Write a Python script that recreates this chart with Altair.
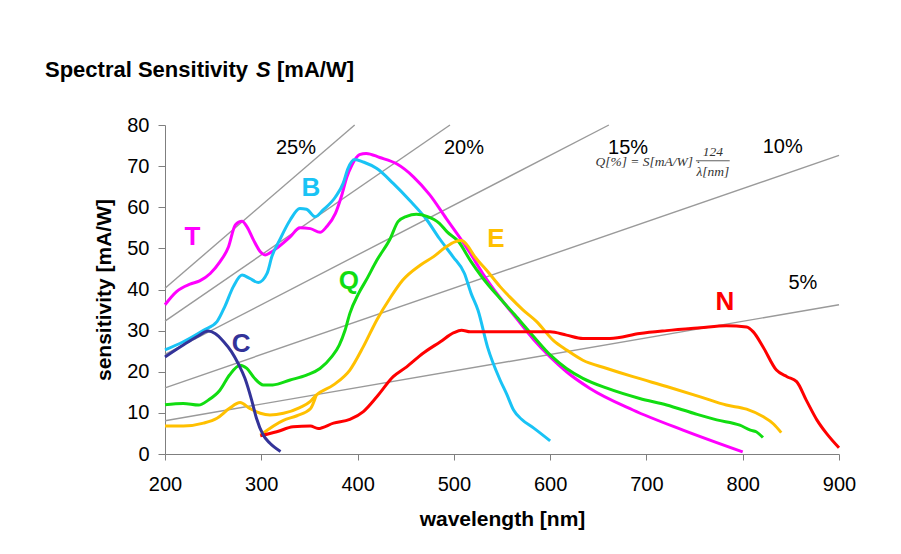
import altair as alt
import pandas as pd

# ---------------- data ----------------
T_x = [200, 212, 226, 236, 247, 257, 266, 273, 280, 285, 292, 299, 304, 309, 318, 330, 340, 351, 361, 368,
       377, 383, 389, 394, 402, 409, 423, 441, 458, 475, 492, 508, 517, 530, 548, 565, 583, 600, 617, 641,
       686, 738, 800]
T_y = [36.3, 39.5, 41.3, 42.1, 43.9, 46.7, 50.4, 55.7, 56.6, 55.3, 52.0, 49.2, 48.4, 48.9, 50.4, 52.8,
       55.0, 54.8, 53.9, 55.3, 58.5, 62.5, 67.4, 70.2, 72.8, 73.1, 72.1, 70.5, 67.4, 63.0, 57.3, 52.0,
       48.8, 43.9, 38.0, 33.0, 27.8, 23.6, 20.0, 16.0, 10.7, 5.8, 0.5]

B_x = [200, 219, 240, 254, 262, 271, 280, 288, 297, 306, 311, 319, 330, 340, 347, 356, 364, 377, 385, 390,
       397, 406, 420, 437, 454, 472, 485, 499, 511, 518, 525, 535, 548, 555, 562, 570, 583, 600]
B_y = [25.3, 27.3, 30.1, 32.2, 35.8, 40.7, 43.5, 42.7, 41.7, 43.9, 48.0, 52.0, 56.9, 59.7, 59.5, 57.7,
       59.3, 62.5, 65.8, 69.4, 71.6, 71.0, 69.4, 65.8, 61.7, 56.9, 52.4, 48.0, 43.9, 39.0, 35.0, 26.0,
       18.0, 14.5, 10.7, 8.5, 6.3, 3.2]

C_x = [200, 219, 233, 245, 252, 261, 269, 276, 283, 290, 295, 302, 309, 320]
C_y = [23.6, 26.5, 28.5, 29.9, 29.3, 27.3, 24.9, 22.0, 18.4, 13.1, 8.7, 4.6, 2.6, 0.6]

Q_x = [200, 219, 235, 245, 257, 267, 278, 285, 293, 302, 312, 330, 347, 361, 373, 381, 387, 392, 401, 409,
       420, 434, 442, 451, 461, 472, 485, 493, 505, 517, 529, 548, 565, 583, 600, 617, 634, 659, 693, 721,
       749, 773, 797, 808, 814, 821]
Q_y = [12.0, 12.3, 11.9, 13.1, 15.5, 19.2, 21.6, 20.8, 18.4, 16.8, 16.8, 18.0, 19.2, 20.8, 23.6, 26.5,
       30.1, 34.2, 39.0, 42.3, 47.1, 52.4, 56.5, 57.8, 58.3, 57.8, 56.1, 54.0, 51.6, 47.1, 43.1, 37.8,
       33.4, 28.5, 24.1, 20.8, 18.4, 16.0, 13.5, 11.9, 9.9, 8.3, 7.0, 5.8, 5.4, 4.0]

E_x = [200, 219, 240, 254, 267, 278, 288, 299, 309, 323, 340, 351, 357, 375, 392, 406, 420, 434, 447, 465,
       479, 492, 501, 508, 513, 522, 534, 548, 558, 572, 586, 603, 617, 634, 659, 686, 721, 756, 783, 804,
       821, 832, 840]
E_y = [6.8, 6.8, 7.5, 8.7, 11.1, 12.5, 11.1, 9.9, 9.5, 9.9, 11.3, 12.8, 14.3, 16.8, 20.4, 26.1, 32.6,
       38.0, 42.3, 45.9, 48.0, 50.4, 51.6, 51.9, 51.0, 47.9, 44.7, 40.7, 38.2, 35.0, 32.2, 27.7, 25.3,
       22.8, 20.8, 18.8, 16.4, 13.9, 11.9, 10.9, 9.1, 7.3, 5.2]

E2_x = [299, 323, 337, 351, 357]
E2_y = [4.6, 8.2, 9.3, 11.0, 14.3]

N_x = [299, 316, 333, 351, 359, 375, 392, 406, 420, 437, 451, 468, 486, 500, 508, 517, 531, 548, 579, 600,
       617, 634, 662, 693, 721, 756, 783, 804, 811, 821, 835, 846, 856, 866, 877, 887, 900]
N_y = [4.4, 5.4, 6.6, 6.8, 6.2, 7.5, 8.4, 10.3, 13.9, 18.8, 21.2, 24.5, 27.3, 29.5, 30.1, 29.7, 29.7,
       29.7, 29.7, 29.7, 28.9, 28.1, 28.1, 29.3, 30.0, 30.7, 31.2, 30.9, 29.7, 26.1, 20.4, 18.8, 17.6,
       13.1, 8.3, 5.0, 1.5]

series_names = ["T", "B", "Q", "E", "N", "C"]
series_colors = ["#FF00FF", "#19C3F5", "#11DD11", "#FFC000", "#FF0000", "#333399"]

# constant quantum-efficiency lines (end points)
q_names = ["25%", "20%", "15%", "10%", "5%"]
q_x0 = [200, 200, 200, 200, 200]
q_y0 = [40.3, 32.3, 24.2, 16.1, 8.1]
q_x1 = [397, 496, 661, 900, 900]
q_y1 = [80.0, 80.0, 80.0, 72.6, 36.3]

# labels
pct_text = ["25%", "20%", "15%", "10%", "5%"]
pct_x = [336, 510.5, 681, 841.5, 862.5]
pct_y = [74.5, 74.5, 74.5, 74.6, 41.6]

lab_text = ["T", "B", "Q", "E", "C", "N"]
lab_x = [228.6, 351.6, 391, 543.7, 279, 781.5]
lab_y = [52.7, 64.6, 42.0, 52.4, 26.7, 36.9]

x_ticks = [200, 300, 400, 500, 600, 700, 800, 900]
y_ticks = [0, 10, 20, 30, 40, 50, 60, 70, 80]

# ---------------- tables ----------------
rows = []
for name, xs_, ys_, br in [("T", T_x, T_y, "T"), ("B", B_x, B_y, "B"), ("Q", Q_x, Q_y, "Q"),
                           ("E", E_x, E_y, "E"), ("E", E2_x, E2_y, "E2"), ("N", N_x, N_y, "N"),
                           ("C", C_x, C_y, "C")]:
    for xv, yv in zip(xs_, ys_):
        rows.append({"series": name, "branch": br, "x": xv, "y": yv})
curves_df = pd.DataFrame(rows)

grows = []
for n, a, b, c, d in zip(q_names, q_x0, q_y0, q_x1, q_y1):
    grows.append({"q": n, "x": a, "y": b})
    grows.append({"q": n, "x": c, "y": d})
gray_df = pd.DataFrame(grows)

pct_df = pd.DataFrame({"t": pct_text, "x": pct_x, "y": pct_y})
lab_df = pd.DataFrame({"t": lab_text, "x": lab_x, "y": lab_y, "series": lab_text})

FONT = "Liberation Sans"
SERIF = "Liberation Serif"
W, H = 674, 329

xs = alt.Scale(domain=[200, 900], nice=False, zero=False)
ys = alt.Scale(domain=[0, 80], nice=False)
cs = alt.Scale(domain=series_names, range=series_colors)

x_axis = alt.Axis(values=x_ticks, grid=False, domainColor="#7f7f7f", tickColor="#7f7f7f", tickSize=6,
                  labelFont=FONT, labelFontSize=20, labelColor="black", labelPadding=14,
                  titleFont=FONT, titleFontSize=21, titleFontWeight="bold", titleColor="black",
                  titlePadding=14, labelFlush=False)
y_axis = alt.Axis(values=y_ticks, grid=False, domainColor="#7f7f7f", tickColor="#7f7f7f", tickSize=7,
                  labelFont=FONT, labelFontSize=20, labelColor="black", labelPadding=9,
                  titleFont=FONT, titleFontSize=21, titleFontWeight="bold", titleColor="black",
                  titlePadding=12, labelFlush=False)

gray = alt.Chart(gray_df).mark_line(color="#9a9a9a", strokeWidth=1.4).encode(
    x=alt.X("x:Q", scale=xs, axis=x_axis, title="wavelength [nm]"),
    y=alt.Y("y:Q", scale=ys, axis=y_axis, title="sensitivity [mA/W]"),
    detail="q:N",
)

curves = alt.Chart(curves_df).mark_line(strokeWidth=3, interpolate="monotone").encode(
    x=alt.X("x:Q", scale=xs),
    y=alt.Y("y:Q", scale=ys),
    color=alt.Color("series:N", scale=cs, legend=None),
    detail="branch:N",
)

pct = alt.Chart(pct_df).mark_text(font=FONT, fontSize=20, color="black", baseline="middle").encode(
    x=alt.X("x:Q", scale=xs), y=alt.Y("y:Q", scale=ys), text="t:N")

labs = alt.Chart(lab_df).mark_text(font=FONT, fontSize=26, fontWeight="bold", baseline="middle").encode(
    x=alt.X("x:Q", scale=xs), y=alt.Y("y:Q", scale=ys), text="t:N",
    color=alt.Color("series:N", scale=cs, legend=None))

# formula annotation
f_df = pd.DataFrame({"t": ["Q[%] = S[mA/W] \u00b7"], "x": [647.0], "y": [70.0]})
f1 = alt.Chart(f_df).mark_text(font=SERIF, fontSize=13.5, fontStyle="italic", color="#333333",
                               align="left", baseline="alphabetic").encode(
    x=alt.X("x:Q", scale=xs), y=alt.Y("y:Q", scale=ys), text="t:N")
fr_df = pd.DataFrame({"t": ["124", "\u03bb[nm]"], "x": [769, 769], "y": [72.5, 67.6]})
f2 = alt.Chart(fr_df).mark_text(font=SERIF, fontSize=13.5, fontStyle="italic", color="#333333",
                                align="center", baseline="alphabetic").encode(
    x=alt.X("x:Q", scale=xs), y=alt.Y("y:Q", scale=ys), text="t:N")
bar_df = pd.DataFrame({"x": [751.4], "x2": [786.5], "y": [71.3]})
f3 = alt.Chart(bar_df).mark_rule(color="#333333", strokeWidth=0.8).encode(
    x=alt.X("x:Q", scale=xs), x2="x2:Q", y=alt.Y("y:Q", scale=ys))

# title pieces
t1 = alt.Chart(pd.DataFrame({"t": ["Spectral Sensitivity"]})).mark_text(
    font=FONT, fontSize=22, fontWeight="bold", color="black", align="left", baseline="alphabetic").encode(
    x=alt.value(-120), y=alt.value(-48), text="t:N")
t2 = alt.Chart(pd.DataFrame({"t": ["S"]})).mark_text(
    font=FONT, fontSize=22, fontWeight="bold", fontStyle="italic", color="black", align="left",
    baseline="alphabetic").encode(x=alt.value(91), y=alt.value(-48), text="t:N")
t3 = alt.Chart(pd.DataFrame({"t": ["[mA/W]"]})).mark_text(
    font=FONT, fontSize=22, fontWeight="bold", color="black", align="left",
    baseline="alphabetic").encode(x=alt.value(112), y=alt.value(-48), text="t:N")

chart = alt.layer(gray, curves, pct, labs, f1, f2, f3, t1, t2, t3).properties(
    width=W, height=H,
    autosize=alt.AutoSizeParams(type="none"),
    padding={"left": 157, "top": 117, "right": 54, "bottom": 92},
    background="white",
).configure_view(stroke=None)

chart.save("out.html", embed_options={"renderer": "svg", "actions": False})
